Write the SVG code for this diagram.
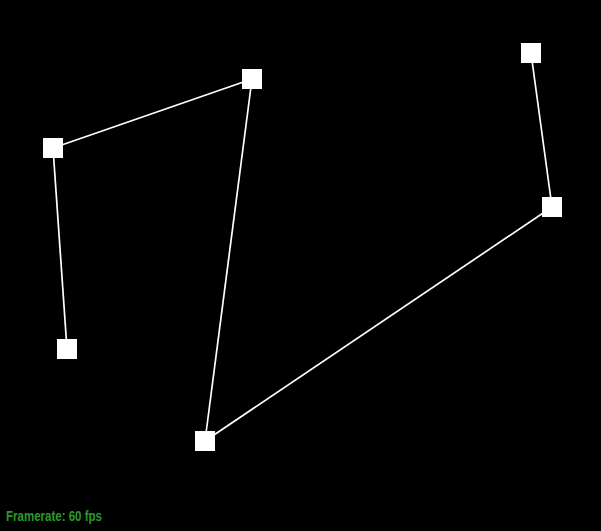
<svg xmlns="http://www.w3.org/2000/svg" width="601" height="531" viewBox="0 0 601 531">
<style>
.n{fill:#fff}
.c line{stroke:#fff;stroke-width:1.7}
.fps{fill:#2a9a2a;font-family:"Liberation Sans","DejaVu Sans",sans-serif;font-weight:bold;font-size:15px}
</style>
<rect width="601" height="531" fill="#000"/>
<g id="connectors" class="c">
<line x1="67" y1="349" x2="53" y2="148"/>
<line x1="53" y1="148" x2="252" y2="79"/>
<line x1="252" y1="79" x2="205" y2="441"/>
<line x1="205" y1="441" x2="552" y2="207"/>
<line x1="552" y1="207" x2="531" y2="53"/>
</g>
<g id="n1"><rect class="n" x="43" y="138" width="20" height="20"/></g>
<g id="n2"><rect class="n" x="242" y="69" width="20" height="20"/></g>
<g id="n3"><rect class="n" x="57" y="339" width="20" height="20"/></g>
<g id="n4"><rect class="n" x="195" y="431" width="20" height="20"/></g>
<g id="n5"><rect class="n" x="521" y="43" width="20" height="20"/></g>
<g id="n6"><rect class="n" x="542" y="197" width="20" height="20"/></g>
<text class="fps" x="6" y="521" textLength="96" lengthAdjust="spacingAndGlyphs">Framerate: 60 fps</text>
</svg>
